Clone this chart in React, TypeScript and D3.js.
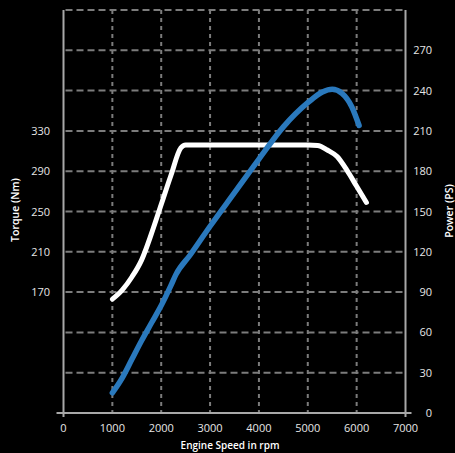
import React from "react";
import * as d3 from "d3";

const rpmTicks = [0, 1000, 2000, 3000, 4000, 5000, 6000, 7000];
const torqueTicks = [170, 210, 250, 290, 330];
const powerTicks = [0, 30, 60, 90, 120, 150, 180, 210, 240, 270];
const gridLevels = [0, 30, 60, 90, 120, 150, 180, 210, 240, 270, 300];
const gridRpm = [1000, 2000, 3000, 4000, 5000, 6000];

const torqueRpm = [1000, 1200, 1400, 1600, 1800, 2000, 2200, 2400, 2500, 3000, 4000, 5000, 5200, 5400, 5600, 5800, 6000, 6200];
const torqueNm = [163, 172, 185, 202, 228, 257, 286, 313, 316, 316, 316, 316, 315.5, 311, 304.5, 291, 275, 259];

const powerRpm = [1000, 1200, 1400, 1600, 1800, 2000, 2200, 2300, 2600, 3000, 3500, 4000, 4500, 5000, 5300, 5500, 5700, 5900, 6050];
const powerPS = [15, 26, 40, 54, 67, 80, 95, 103, 118, 139, 164, 189, 213, 231, 239, 241, 238, 228, 214];

const W = 455, H = 453;
const left = 63.5, right = 405.5, top = 10, bottom = 413;

export default function App() {
  const x = d3.scaleLinear().domain([0, 7000]).range([left, right]);
  const yP = d3.scaleLinear().domain([0, 300]).range([bottom, top]);
  const yT = d3.scaleLinear().domain([50, 450]).range([bottom, top]);

  const torqueLine = d3.line<number>()
    .x((_, i) => x(torqueRpm[i]))
    .y((d) => yT(d))
    .curve(d3.curveMonotoneX)(torqueNm) as string;
  const powerLine = d3.line<number>()
    .x((_, i) => x(powerRpm[i]))
    .y((d) => yP(d))
    .curve(d3.curveMonotoneX)(powerPS) as string;

  const gridColor = "#7c7c7c";
  const axisColor = "#a8a8a8";
  const font = "'Open Sans', 'Noto Sans', sans-serif";

  return (
    <svg width={W} height={H} style={{ position: "absolute", left: 0, top: 0, background: "#000" }}>
      <rect x={0} y={0} width={W} height={H} fill="#000" />
      {gridLevels.map((v) => (
        <line key={"h" + v} x1={left + 2} x2={right - 1} y1={yP(v)} y2={yP(v)}
          stroke={gridColor} strokeWidth={2} strokeDasharray="7 4" />
      ))}
      {gridRpm.map((r) => (
        <line key={"v" + r} x1={x(r)} x2={x(r)} y1={top} y2={bottom}
          stroke={gridColor} strokeWidth={2} strokeDasharray="4 4" />
      ))}
      <line x1={left} x2={left} y1={top} y2={bottom + 4} stroke={axisColor} strokeWidth={2} />
      <line x1={right} x2={right} y1={top} y2={bottom + 4} stroke={axisColor} strokeWidth={2} />
      <line x1={left - 7} x2={right + 6} y1={bottom} y2={bottom} stroke={axisColor} strokeWidth={2} />

      <path d={torqueLine} fill="none" stroke="#ffffff" strokeWidth={5} strokeLinecap="round" strokeLinejoin="round" />
      <path d={powerLine} fill="none" stroke="#2a79bd" strokeWidth={5.5} strokeLinecap="round" strokeLinejoin="round" />

      {rpmTicks.map((r) => (
        <text key={"xt" + r} x={x(r)} y={432} fill="#e6e6e6" fontSize={11} fontFamily={font} textAnchor="middle">{r}</text>
      ))}
      {torqueTicks.map((v) => (
        <text key={"lt" + v} x={50} y={yT(v) + 4} fill="#e6e6e6" fontSize={11} fontFamily={font} textAnchor="end">{v}</text>
      ))}
      {powerTicks.map((v) => (
        <text key={"rt" + v} x={432} y={yP(v) + 4} fill="#e6e6e6" fontSize={11} fontFamily={font} textAnchor="end">{v}</text>
      ))}
      <text x={230} y={449} fill="#ffffff" fontSize={10} fontWeight={600} fontFamily={font} textAnchor="middle">Engine Speed in rpm</text>
      <text transform="translate(19,210) rotate(-90)" fill="#ffffff" fontSize={10.5} fontWeight={600} fontFamily={font} textAnchor="middle">Torque (Nm)</text>
      <text transform="translate(453,211) rotate(-90)" fill="#ffffff" fontSize={10.5} fontWeight={600} fontFamily={font} textAnchor="middle">Power (PS)</text>
    </svg>
  );
}
